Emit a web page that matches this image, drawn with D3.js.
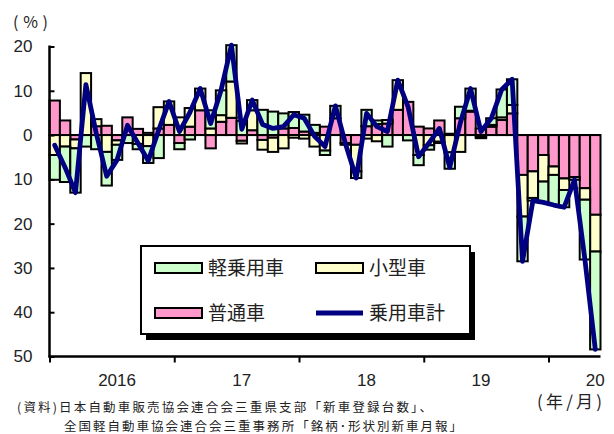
<!DOCTYPE html>
<html>
<head>
<meta charset="utf-8">
<script src="https://cdn.jsdelivr.net/npm/d3@7"></script>
<style>
  html, body { margin: 0; padding: 0; background: #fff; }
  svg { display: block; }
  .num { font-family: "Liberation Sans", Arial, sans-serif; fill: #222; }
  .jp { font-family: "Noto Sans CJK JP", sans-serif; fill: #222; }
</style>
</head>
<body>
<svg id="chart" width="614" height="434"></svg>
<script>
// Monthly categories: 2016/1 .. 2020/5
const startYear = 2016;
const monthCount = 53;
const categories = [];
for (let i = 0; i < monthCount; i++) {
  categories.push((startYear + Math.floor(i / 12)) + "/" + (i % 12 + 1));
}

// Contribution by vehicle class (percentage points, year-on-year)
const futsu = [ // 普通車
  7.8, 3.3, -1.0, 0.0, 2.0, 2.1, -1.2, 4.0, 1.4, 0.5, 1.5, 2.3,
  -1.8, 1.9, 5.6, -3.0, 3.0, 3.9, -1.3, 1.1, -1.1, -0.6, 1.5, 1.6,
  0.8, 0.5, 1.9, 3.8, -1.8, -2.2, 2.0, 2.5, 2.6, 5.7, 7.5, 1.9,
  1.5, 3.3, 0.3, 3.8, 5.3, 1.5, 1.9, 3.4, 4.9, -9.0, -8.2, -4.5,
  -7.1, -9.8, -9.5, -12.0, -18.0
];
const kogata = [ // 小型車
  -4.5, -2.6, -2.0, 14.0, 1.6, -3.8, -1.0, 0.0, -2.0, -2.5, 4.8, 5.3,
  4.0, 4.2, 4.9, 1.5, 1.5, 8.2, -0.6, 4.5, -2.2, -3.2, -3.0, -0.6,
  -0.8, -2.6, -3.5, 0.0, -0.4, -6.0, -0.8, -1.4, 0.8, 6.7, 0.0, -4.5,
  -2.3, -1.5, -3.9, -3.8, 0.2, -0.4, 0.4, 0.6, 1.9, -9.4, -6.0, -6.0,
  -1.9, -2.6, -0.6, -2.6, -8.3
];
const kei = [ // 軽乗用車
  -5.6, -8.0, -10.0, -2.6, -3.2, -7.6, -3.4, -1.8, -1.2, -3.8, -5.2, 0.0,
  -1.4, -1.0, 0.0, 4.1, 5.6, 8.2, 3.2, 2.3, 5.7, 5.3, 3.4, 3.6,
  3.8, 1.8, -1.0, 2.8, 0.0, -1.5, 3.7, 0.8, -2.6, 0.0, -1.2, -2.3,
  -1.0, -0.3, -3.7, 2.6, 5.0, -0.3, 1.5, 6.3, 5.8, -10.1, -0.6, -4.7,
  -6.8, -3.9, 0.0, -13.5, -22.1
];
// 乗用車計 (year-on-year change, %)
const total = [
  -2.3, -7.3, -13.0, 11.4, 0.4, -9.3, -5.6, 2.2, -1.8, -5.8, 1.1, 7.6,
  0.8, 5.1, 10.5, 2.6, 10.1, 20.3, 1.3, 7.9, 2.4, 1.5, 1.9, 4.6,
  3.8, -0.3, -2.6, 6.6, -2.2, -9.7, 4.9, 1.9, 0.8, 12.4, 6.3, -4.9,
  -1.8, 1.5, -7.3, 2.6, 10.5, 0.8, 3.8, 10.3, 12.6, -28.5, -14.8, -15.2,
  -15.8, -16.3, -10.1, -28.1, -48.4
];

const yTicks = [20, 10, 0, -10, -20, -30, -40, -50];
const yearTickIndex = [0, 12, 24, 36, 48];
const yearLabels = ["2016", "17", "18", "19", "20"];
const yearLabelIndex = [6, 18, 30, 41, 52];

const seriesKeys = ["futsu", "kogata", "kei"];
const seriesNames = { futsu: "普通車", kogata: "小型車", kei: "軽乗用車" };
const seriesColors = { futsu: "#ff99cc", kogata: "#ffffcc", kei: "#ccffcc" };
const lineColor = "#000080";

const rows = categories.map((c, i) => ({
  cat: c, futsu: futsu[i], kogata: kogata[i], kei: kei[i], total: total[i]
}));

const svg = d3.select("#chart");
const plotLeft = 49.5, plotRight = 600.5, plotTop = 46.5, plotBottom = 356.5;

const x = d3.scaleBand().domain(categories).range([plotLeft, plotRight]).padding(0);
const xIdx = d3.scaleLinear().domain([0, monthCount]).range([plotLeft, plotRight]);
const y = d3.scaleLinear().domain([-50, 20]).range([plotBottom, plotTop]);

// Stacked bars (positives up, negatives down from zero)
const stacked = d3.stack().keys(seriesKeys).offset(d3.stackOffsetDiverging)(rows);

const barG = svg.append("g");
stacked.forEach(layer => {
  barG.append("g")
    .attr("fill", seriesColors[layer.key])
    .attr("stroke", "#000")
    .attr("stroke-width", 2)
    .selectAll("rect")
    .data(layer.filter(d => Math.abs(d[1] - d[0]) > 1e-9))
    .join("rect")
    .attr("x", d => x(d.data.cat))
    .attr("width", x.bandwidth())
    .attr("y", d => y(Math.max(d[0], d[1])))
    .attr("height", d => Math.abs(y(d[0]) - y(d[1])));
});

// Zero line
svg.append("line")
  .attr("x1", plotLeft).attr("x2", plotRight)
  .attr("y1", y(0)).attr("y2", y(0))
  .attr("stroke", "#000").attr("stroke-width", 2);

// Total line
const line = d3.line()
  .x(d => x(d.cat) + x.bandwidth() / 2)
  .y(d => y(d.total));
svg.append("path")
  .datum(rows)
  .attr("d", line)
  .attr("fill", "none")
  .attr("stroke", lineColor)
  .attr("stroke-width", 4.8)
  .attr("stroke-linejoin", "round")
  .attr("stroke-linecap", "round");

// Y axis
const yAxis = d3.axisLeft(y)
  .tickValues(yTicks)
  .tickSize(-5)
  .tickPadding(17)
  .tickFormat(d => Math.abs(d));
const yG = svg.append("g").attr("transform", `translate(${plotLeft},0)`).call(yAxis);
yG.select(".domain").remove();
yG.selectAll(".tick line").attr("stroke", "#000").attr("stroke-width", 2);
yG.selectAll(".tick text").attr("class", "num").attr("font-size", 17).attr("font-family", null);
yG.attr("font-family", null).attr("font-size", null);
svg.append("line")
  .attr("x1", plotLeft).attr("x2", plotLeft)
  .attr("y1", plotTop - 1).attr("y2", plotBottom + 1)
  .attr("stroke", "#000").attr("stroke-width", 2.5);

// X axis
const xAxis = d3.axisBottom(xIdx).tickValues(yearTickIndex).tickSize(6).tickFormat("");
const xG = svg.append("g").attr("transform", `translate(0,${plotBottom})`).call(xAxis);
xG.select(".domain").remove();
xG.selectAll(".tick line").attr("stroke", "#000").attr("stroke-width", 2);
svg.append("line")
  .attr("x1", plotLeft - 1).attr("x2", plotRight)
  .attr("y1", plotBottom).attr("y2", plotBottom)
  .attr("stroke", "#000").attr("stroke-width", 2.5);

svg.append("g").selectAll("text")
  .data(yearLabels)
  .join("text")
  .attr("class", "num")
  .attr("font-size", 17)
  .attr("text-anchor", "middle")
  .attr("x", (d, i) => x(categories[yearLabelIndex[i]]) + x.bandwidth() / 2)
  .attr("y", 386)
  .text(d => d);

// Unit labels
svg.append("text").attr("class", "jp").attr("font-size", 16)
  .attr("x", 13).attr("y", 28).attr("textLength", 35).text("(%)");
svg.append("text").attr("class", "jp").attr("font-size", 17)
  .attr("x", 537).attr("y", 408).attr("textLength", 65).text("(年/月)");

// Source notes
svg.append("text").attr("class", "jp").attr("font-size", 12.5)
  .attr("x", 17).attr("y", 411.5).attr("textLength", 415)
  .text("(資料)日本自動車販売協会連合会三重県支部「新車登録台数」、");
svg.append("text").attr("class", "jp").attr("font-size", 12.5)
  .attr("x", 64).attr("y", 430.5).attr("textLength", 398)
  .text("全国軽自動車協会連合会三重事務所「銘柄･形状別新車月報」");

// Legend
const lg = svg.append("g");
lg.append("rect").attr("x", 146).attr("y", 252).attr("width", 329).attr("height", 88).attr("fill", "#000");
lg.append("rect").attr("x", 141).attr("y", 246).attr("width", 329).attr("height", 88)
  .attr("fill", "#fff").attr("stroke", "#000").attr("stroke-width", 2);

const legendItems = [
  { key: "kei", col: 0, row: 0 },
  { key: "kogata", col: 1, row: 0 },
  { key: "futsu", col: 0, row: 1 },
  { key: "total", col: 1, row: 1 }
];
const colX = [155, 316];
const rowY = [268, 313];
legendItems.forEach(it => {
  const gx = colX[it.col], gy = rowY[it.row];
  if (it.key === "total") {
    lg.append("line").attr("x1", gx).attr("x2", gx + 47).attr("y1", gy).attr("y2", gy)
      .attr("stroke", lineColor).attr("stroke-width", 4.8);
  } else {
    lg.append("rect").attr("x", gx).attr("y", gy - 5).attr("width", 47).attr("height", 10)
      .attr("fill", seriesColors[it.key]).attr("stroke", "#000").attr("stroke-width", 2);
  }
  lg.append("text").attr("class", "jp").attr("font-size", 19)
    .attr("x", gx + 53).attr("y", gy + 7)
    .text(it.key === "total" ? "乗用車計" : seriesNames[it.key]);
});
</script>
</body>
</html>
